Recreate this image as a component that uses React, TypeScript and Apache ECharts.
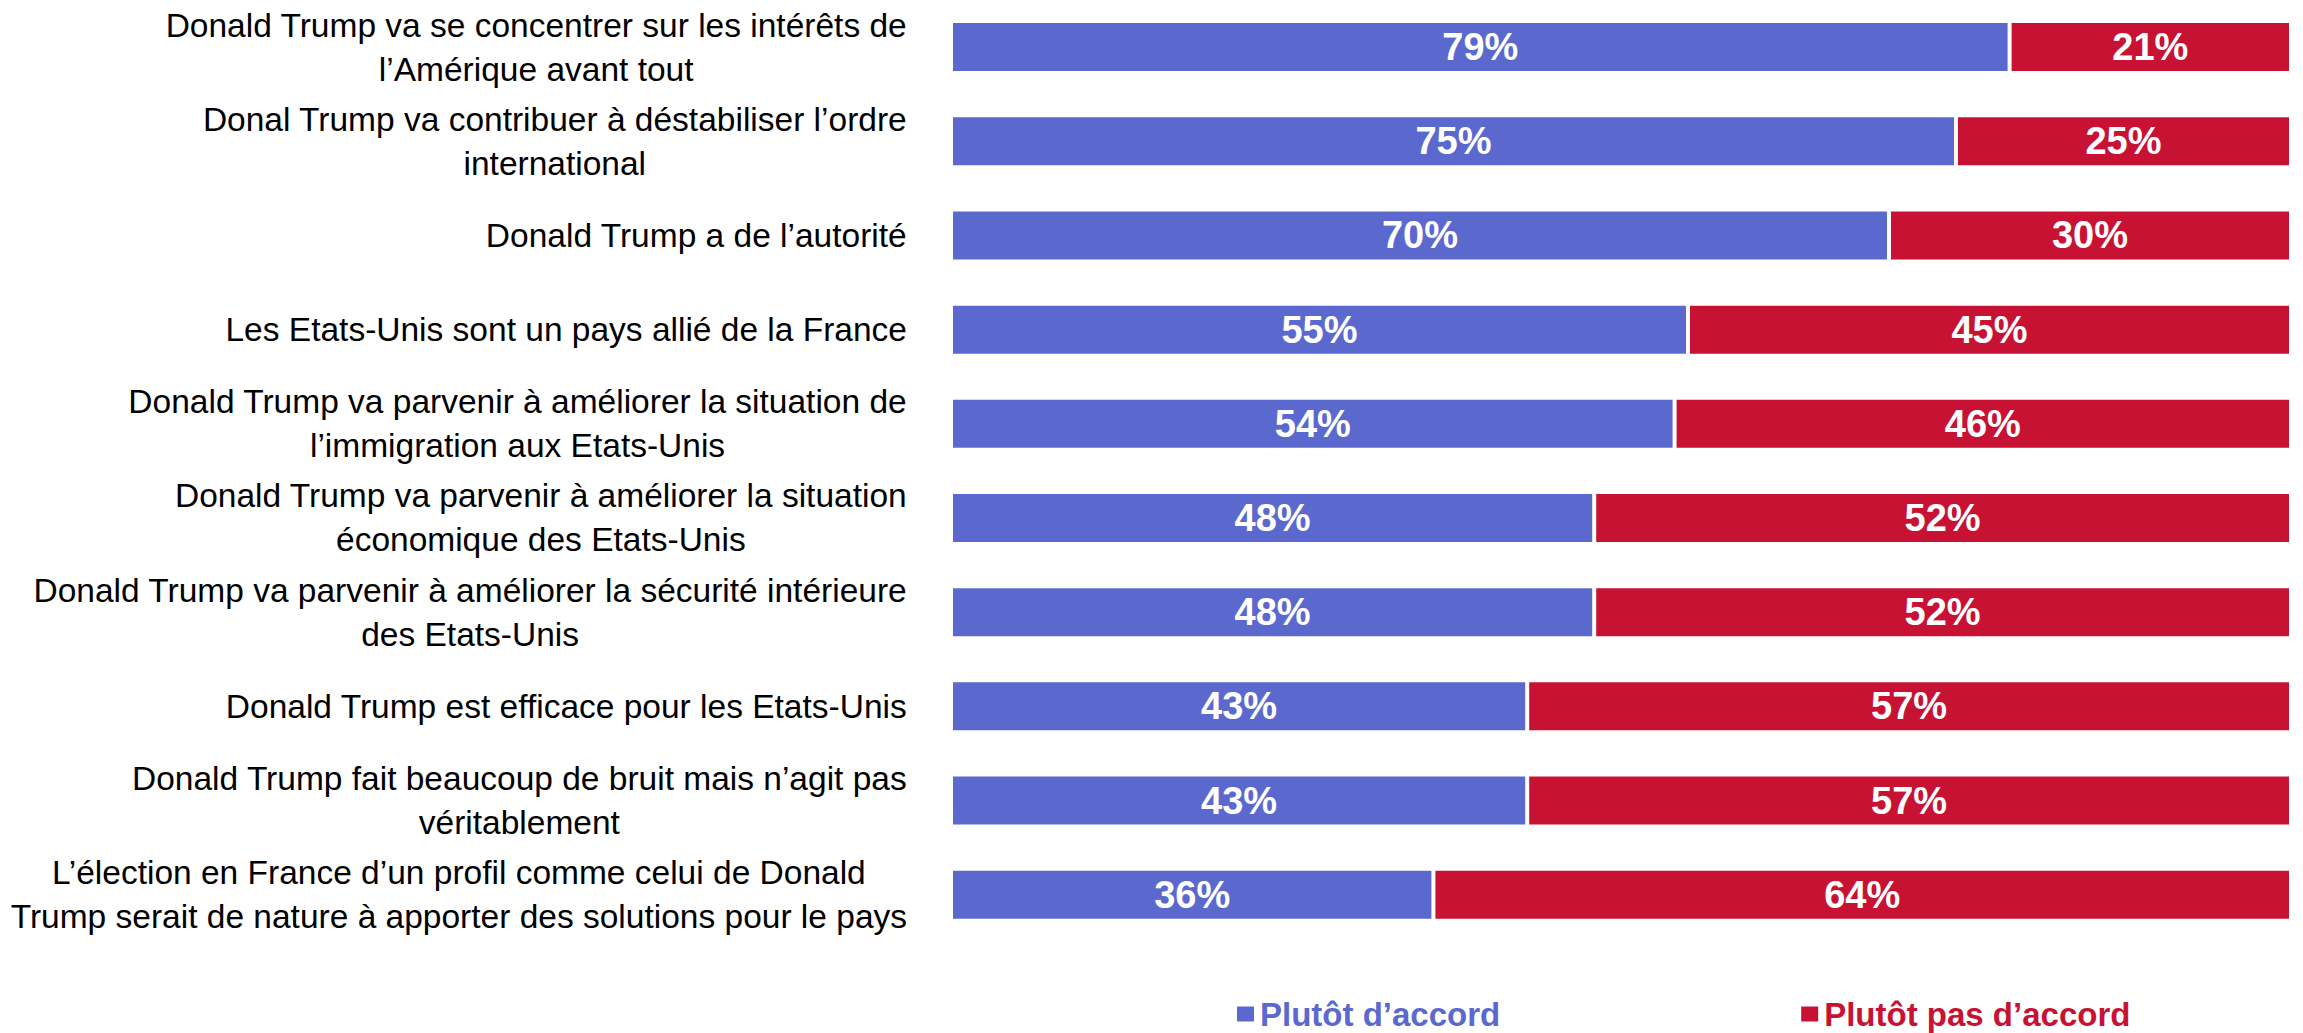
import React, { useEffect, useRef } from "react";
import * as echarts from "echarts";

const categories: string[] = [
  "Donald Trump va se concentrer sur les intérêts de\nl’Amérique avant tout",
  "Donal Trump va contribuer à déstabiliser l’ordre\ninternational",
  "Donald Trump a de l’autorité",
  "Les Etats-Unis sont un pays allié de la France",
  "Donald Trump va parvenir à améliorer la situation de\nl’immigration aux Etats-Unis",
  "Donald Trump va parvenir à améliorer la situation\néconomique des Etats-Unis",
  "Donald Trump va parvenir à améliorer la sécurité intérieure\ndes Etats-Unis",
  "Donald Trump est efficace pour les Etats-Unis",
  "Donald Trump fait beaucoup de bruit mais n’agit pas\nvéritablement",
  "L’élection en France d’un profil comme celui de Donald\nTrump serait de nature à apporter des solutions pour le pays",
];

const agree: number[] = [79, 75, 70, 55, 54, 48, 48, 43, 43, 36];
const disagree: number[] = [21, 25, 30, 45, 46, 52, 52, 57, 57, 64];

const seriesNames: string[] = ["Plutôt d’accord", "Plutôt pas d’accord"];
const BLUE = "#5B69CE";
const RED = "#C81234";

export default function App() {
  const ref = useRef<HTMLDivElement>(null);

  useEffect(() => {
    if (!ref.current) return;
    const chart = echarts.init(ref.current, undefined, { renderer: "svg" });
    const labelStyle = {
      show: true,
      position: "inside" as const,
      color: "#ffffff",
      fontWeight: "bold" as const,
      fontSize: 38,
      fontFamily: "Liberation Sans",
      formatter: (p: any) => `${p.value}%`,
    };
    chart.setOption({
      animation: false,
      backgroundColor: "#ffffff",
      grid: { left: 951, right: 12, top: -1.2, height: 943, containLabel: false },
      xAxis: { type: "value", min: 0, max: 100, show: false },
      yAxis: {
        type: "category",
        inverse: true,
        data: categories,
        axisLine: { show: false },
        axisTick: { show: false },
        splitLine: { show: false },
        axisLabel: {
          margin: 44,
          align: "right",
          fontSize: 33.5,
          fontFamily: "Liberation Sans",
          color: "#000000",
          formatter: (v: string) =>
            v
              .split("\n")
              .map((l) => `{c|${l}}`)
              .join("\n"),
          rich: {
            c: {
              align: "center",
              fontSize: 33.5,
              lineHeight: 44,
              fontFamily: "Liberation Sans",
              color: "#000000",
            },
          },
        },
      },
      legend: {
        left: 1235,
        top: 997,
        padding: 0,
        itemWidth: 19,
        itemHeight: 17,
        itemGap: 299,
        icon: "rect",
        textStyle: {
          fontSize: 33,
          lineHeight: 34,
          fontWeight: "bold",
          fontFamily: "Liberation Sans",
        },
        data: [
          { name: seriesNames[0], textStyle: { color: BLUE } },
          { name: seriesNames[1], textStyle: { color: RED } },
        ],
      },
      series: [
        {
          name: seriesNames[0],
          type: "bar",
          stack: "total",
          data: agree,
          barWidth: 52,
          itemStyle: { color: BLUE, borderColor: "#ffffff", borderWidth: 2 },
          label: labelStyle,
        },
        {
          name: seriesNames[1],
          type: "bar",
          stack: "total",
          data: disagree,
          barWidth: 52,
          itemStyle: { color: RED, borderColor: "#ffffff", borderWidth: 2 },
          label: labelStyle,
        },
      ],
    });
    return () => chart.dispose();
  }, []);

  return (
    <div
      ref={ref}
      style={{ position: "fixed", left: 0, top: 0, width: 2303, height: 1033 }}
    />
  );
}
